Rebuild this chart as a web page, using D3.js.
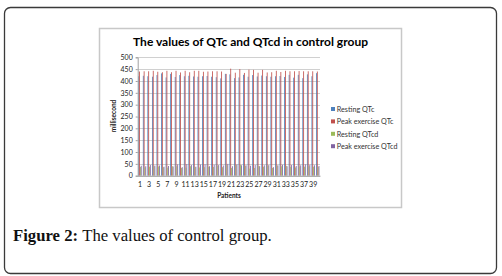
<!DOCTYPE html>
<html><head><meta charset="utf-8">
<script src="https://cdn.jsdelivr.net/npm/d3@7"></script>
<style>
html,body{margin:0;padding:0;background:#fff;}
svg{display:block;}
</style></head>
<body>
<script>
const patients = d3.range(1, 41);
const seriesNames = ["Resting QTc", "Peak exercise QTc", "Resting QTcd", "Peak exercise QTcd"];
const restingQTc = [420,422,420,418,425,432,415,430,417,425,420,422,419,418,420,421,418,416,411,430,428,412,415,426,418,425,419,423,420,418,420,421,417,426,414,426,412,428,420,433];
const peakQTc = [440,441,441,443,439,437,443,437,443,436,443,437,443,443,439,440,441,441,440,430,452,435,450,434,448,447,435,447,436,437,443,438,443,441,441,442,441,441,441,440];
const restingQTcd = [37,35,38,40,39,36,34,40,40,33,34,40,37,35,36,38,37,42,36,44,33,45,45,42,30,33,41,38,42,33,43,40,42,37,35,39,38,40,38,37];
const peakQTcd = [42,40,45,43,43,38,41,39,48,36,49,45,38,47,48,40,46,45,43,50,40,48,44,44,42,45,40,44,45,36,44,46,40,45,41,44,48,46,44,41];
const yTicks = [0,50,100,150,200,250,300,350,400,450,500];
const colors = ["#4F81BD","#C0504D","#9BBB59","#8064A2"];
const allSeries = [restingQTc, peakQTc, restingQTcd, peakQTcd];

const W = 502, H = 276;
const svg = d3.select("body").append("svg").attr("width", W).attr("height", H);

svg.append("rect").attr("x",4.5).attr("y",7.5).attr("width",492).attr("height",266)
  .attr("rx",6).attr("fill","#fff").attr("stroke","#3a3a3a").attr("stroke-width",1.3);

svg.append("rect").attr("x",99.5).attr("y",28.5).attr("width",302).attr("height",179)
  .attr("fill","#fff").attr("stroke","#c8c8c8").attr("stroke-width",1.5);

const font = "Lato, 'Open Sans', sans-serif";

svg.append("text").attr("x",250.5).attr("y",46).attr("text-anchor","middle")
  .attr("font-family",font).attr("font-weight","bold").attr("font-size",12)
  .attr("fill","#000").text("The values of QTc and QTcd in control group");

const plot = {l:137.7, r:320, t:57.3, b:175.7};
const x = d3.scaleBand().domain(patients).range([plot.l, plot.r]).paddingInner(0.27).paddingOuter(0.135);
const xs = d3.scaleBand().domain(d3.range(4)).range([0, x.bandwidth()]);
const y = d3.scaleLinear().domain([0,500]).range([plot.b, plot.t]);

svg.append("g").selectAll("line").data(yTicks).join("line")
  .attr("x1",plot.l).attr("x2",plot.r)
  .attr("y1",d=>Math.round(y(d))+0.5).attr("y2",d=>Math.round(y(d))+0.5)
  .attr("stroke","#d0d0d0").attr("stroke-width",1);

allSeries.forEach((vals, si) => {
  svg.append("g").selectAll("rect").data(vals).join("rect")
    .attr("x",(d,i)=>x(patients[i]) + xs(si))
    .attr("width", xs.bandwidth())
    .attr("y", d=>y(d))
    .attr("height", d=>y(0)-y(d))
    .attr("fill", colors[si]);
});

const yAxis = d3.axisLeft(y).tickValues(yTicks).tickSize(2).tickPadding(3);
const gy = svg.append("g").attr("transform",`translate(${plot.l},0)`).call(yAxis);
gy.select(".domain").attr("stroke","#a0a0a0");
gy.selectAll(".tick line").attr("stroke","#a0a0a0");
gy.selectAll("text").attr("font-family",font).attr("font-size",7).attr("fill","#222");

const xAxis = d3.axisBottom(x).tickValues(patients.filter(p=>p%2===1)).tickSize(0).tickPadding(6);
const gx = svg.append("g").attr("transform",`translate(0,${plot.b})`).call(xAxis);
gx.select(".domain").attr("stroke","#a0a0a0");
gx.selectAll("text").attr("font-family",font).attr("font-size",7).attr("fill","#222");

svg.append("text").attr("x",229).attr("y",198).attr("text-anchor","middle")
  .attr("font-family",font).attr("font-weight","bold").attr("font-size",6.5).attr("fill","#222").text("Patients");

svg.append("text").attr("transform","translate(116,116) rotate(-90)").attr("text-anchor","middle")
  .attr("font-family",font).attr("font-weight","bold").attr("font-size",6.5).attr("fill","#222").text("millisecond");

const lg = svg.append("g").selectAll("g").data(seriesNames).join("g")
  .attr("transform",(d,i)=>`translate(331,${110 + i*12.4})`);
lg.append("rect").attr("x",0).attr("y",-3).attr("width",4).attr("height",4).attr("fill",(d,i)=>colors[i]);
lg.append("text").attr("x",5.8).attr("y",1.9).attr("font-family",font).attr("font-size",7.2).attr("fill","#333").text(d=>d);

const cap = svg.append("text").attr("x",13).attr("y",241).attr("font-family","'Liberation Serif', 'DejaVu Serif', serif").attr("font-size",16.7).attr("fill","#111");
cap.append("tspan").attr("font-weight","bold").text("Figure 2: ");
cap.append("tspan").text("The values of control group.");
</script>
</body></html>
